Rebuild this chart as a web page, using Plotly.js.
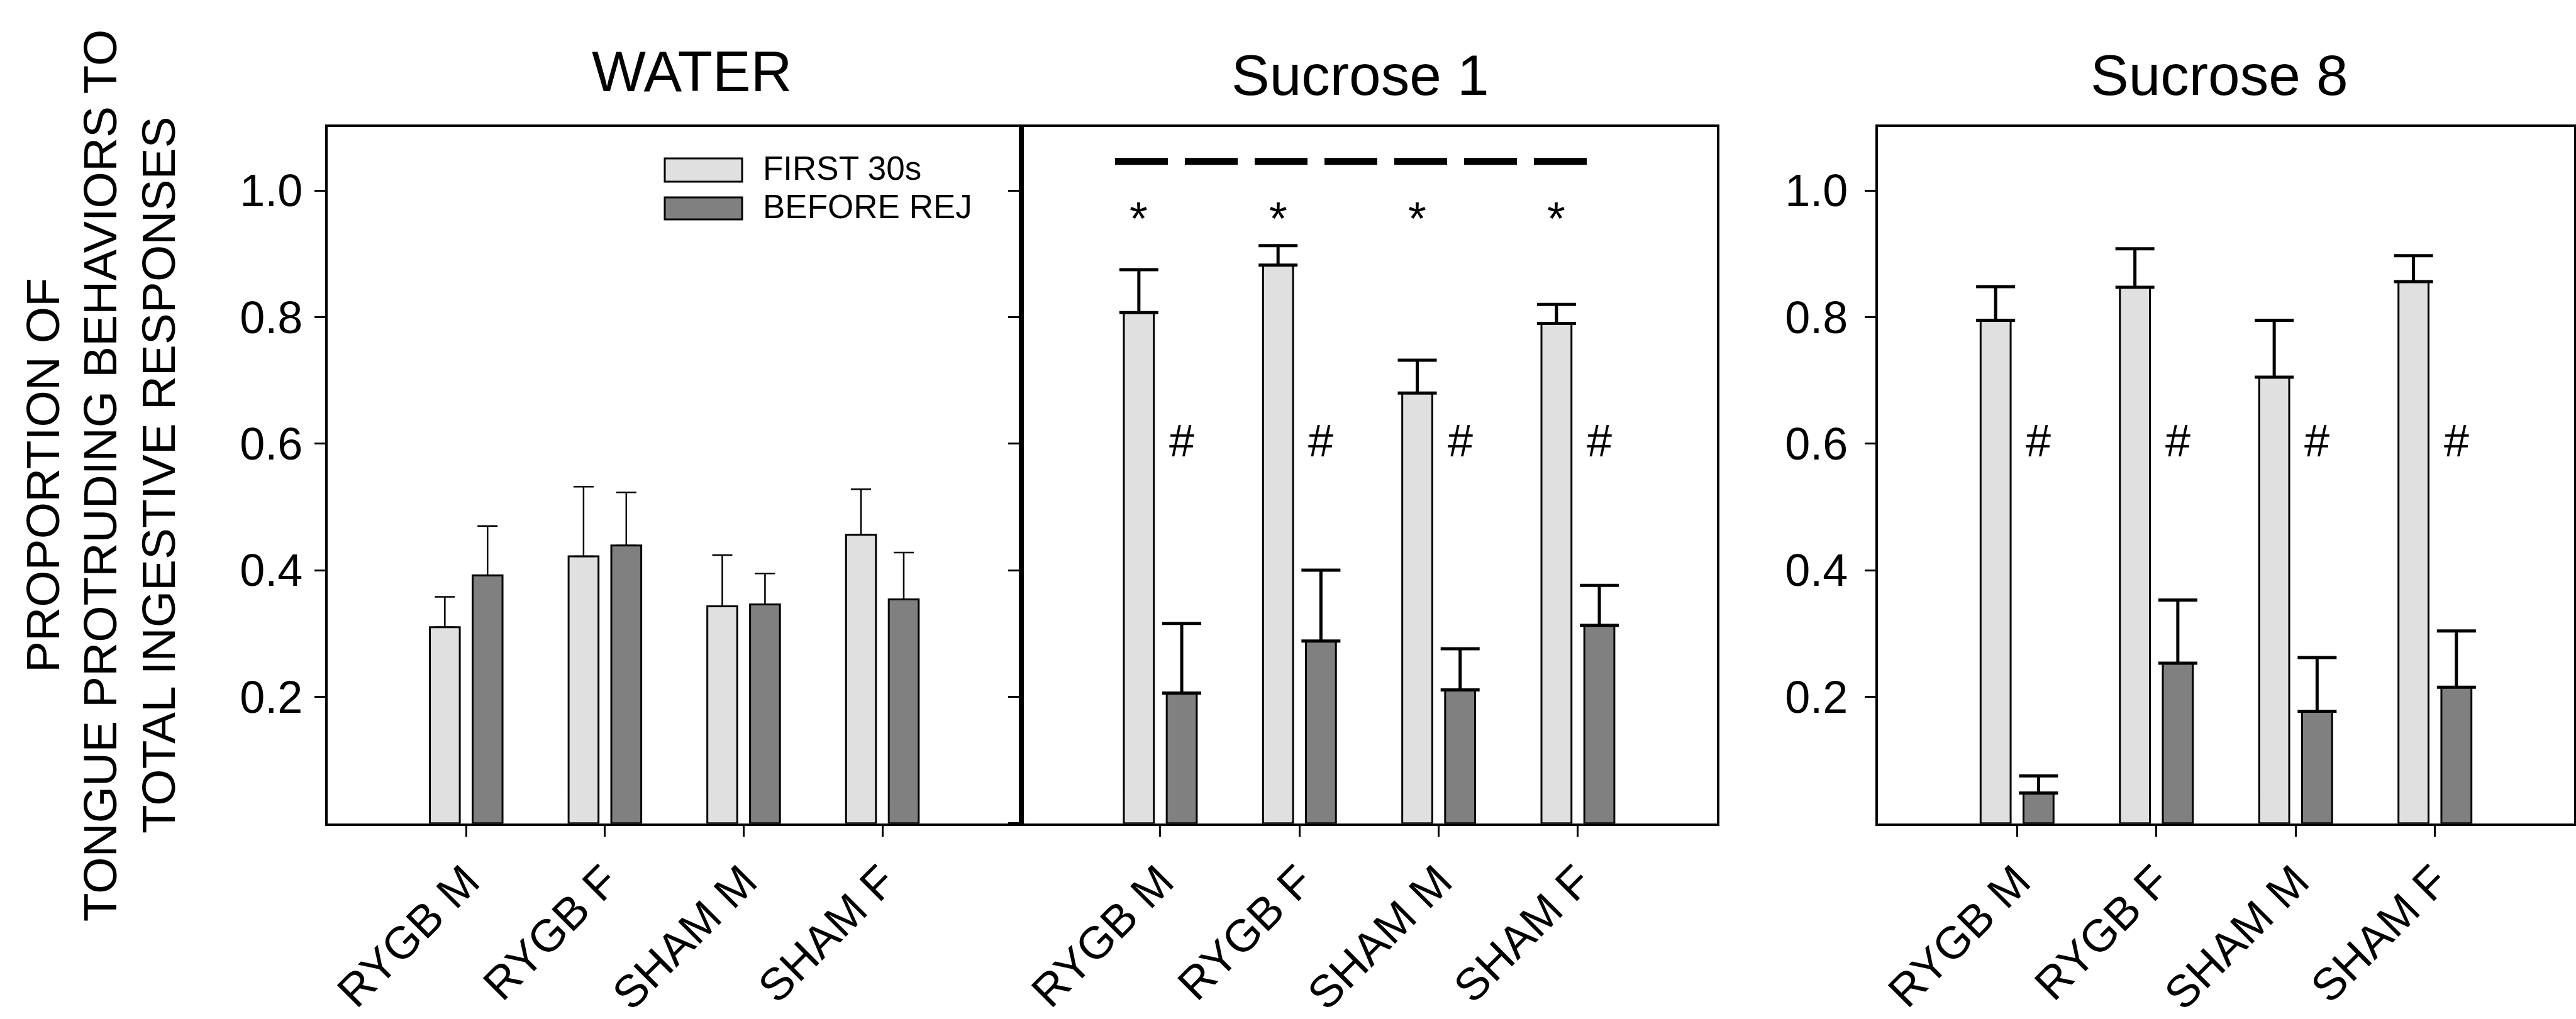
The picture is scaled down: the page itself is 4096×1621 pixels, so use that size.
<!DOCTYPE html>
<html>
<head>
<meta charset="utf-8">
<script src="https://cdn.plot.ly/plotly-3.0.1.min.js"></script>
<style>html,body{margin:0;padding:0;background:#fff;}#chart{width:4096px;height:1621px;}</style>
</head>
<body>
<div id="chart"></div>
<script>
// ---------------- DATA ----------------
const categories = ['RYGB M', 'RYGB F', 'SHAM M', 'SHAM F'];
const panelTitles = ['WATER', 'Sucrose 1', 'Sucrose 8'];
const seriesNames = ['FIRST 30s', 'BEFORE REJ'];

const waterFirst      = [0.310, 0.422, 0.343, 0.456];
const waterFirstErr   = [0.048, 0.110, 0.081, 0.072];
const waterBefore     = [0.392, 0.439, 0.346, 0.354];
const waterBeforeErr  = [0.078, 0.084, 0.049, 0.074];

const suc1First       = [0.807, 0.882, 0.680, 0.790];
const suc1FirstErr    = [0.068, 0.031, 0.052, 0.030];
const suc1Before      = [0.206, 0.288, 0.211, 0.313];
const suc1BeforeErr   = [0.110, 0.112, 0.065, 0.063];

const suc8First       = [0.795, 0.847, 0.705, 0.856];
const suc8FirstErr    = [0.053, 0.061, 0.090, 0.041];
const suc8Before      = [0.048, 0.253, 0.177, 0.215];
const suc8BeforeErr   = [0.027, 0.100, 0.085, 0.089];

const yTickVals  = [0.2, 0.4, 0.6, 0.8, 1.0];
const yTickText  = ['0.2', '0.4', '0.6', '0.8', '1.0'];

// significance marks: '*' over FIRST 30s bars, '#' over BEFORE REJ bars
const starPanels = [1];
const starY = 0.972;
const hashPanels = [1, 2];
const hashY = 0.605;
// dashed significance line in Sucrose 1 (category units)
const sigLineX = [-0.325, 3.065];
const sigLineY = 1.046;

const yTitleLines = ['PROPORTION OF', 'TONGUE PROTRUDING BEHAVIORS TO', 'TOTAL INGESTIVE RESPONSES'];

// ---------------- STYLE ----------------
const W = 4096, H = 1621;
const FONT = 'Liberation Sans, Arial, Helvetica, sans-serif';
const lightColor = '#e0e0e0';
const darkColor = '#808080';
const px = x => x / W;
const py = y => 1 - y / H;

const plotTop = 202.4, plotBot = 1309.8;
const yDom = [py(plotBot), py(plotTop)];
const xDoms = [[px(520.7), px(1623.6)], [px(1623.6), px(2730.3)], [px(2985.8), px(4093.2)]];
const BARGAP = 0.384, BARGROUPGAP = 0.30;
const slotHalf = (1 - BARGAP) / 4; // center offset of each bar in a group

const panelData = [
  [[waterFirst, waterFirstErr], [waterBefore, waterBeforeErr]],
  [[suc1First, suc1FirstErr], [suc1Before, suc1BeforeErr]],
  [[suc8First, suc8FirstErr], [suc8Before, suc8BeforeErr]]
];
const errThick = [2.5, 5, 5];
const errWidth = [16, 31, 31];

const traces = [];
panelData.forEach((pd, p) => {
  const sfx = p === 0 ? '' : String(p + 1);
  pd.forEach((s, k) => {
    traces.push({
      type: 'bar',
      name: seriesNames[k],
      x: categories,
      y: s[0],
      xaxis: 'x' + sfx,
      yaxis: 'y' + sfx,
      marker: {color: k === 0 ? lightColor : darkColor, line: {color: '#000', width: 3}},
      error_y: {type: 'data', symmetric: false, array: s[1], arrayminus: s[1].map(() => 0),
                color: '#000', thickness: errThick[p], width: errWidth[p]},
      showlegend: false,
      hoverinfo: 'x+y'
    });
  });
});

function xAxis(p) {
  return {
    domain: xDoms[p], anchor: p === 0 ? 'y' : 'y' + (p + 1),
    type: 'category', categoryarray: categories, range: [-1, 4],
    showline: true, linecolor: '#000', linewidth: 4, mirror: true,
    ticks: 'outside', ticklen: 17, tickwidth: 3, tickcolor: '#000',
    tickangle: -45, tickfont: {family: FONT, size: 72, color: '#000'},
    showgrid: false, zeroline: false, fixedrange: true
  };
}
function yAxis(p, labels) {
  return {
    domain: yDom, anchor: p === 0 ? 'x' : 'x' + (p + 1),
    range: [0, 1.1],
    showline: true, linecolor: '#000', linewidth: 4, mirror: true,
    ticks: 'outside', ticklen: 17, tickwidth: 3, tickcolor: '#000',
    tickmode: 'array',
    tickvals: labels ? yTickVals : [0].concat(yTickVals),
    ticktext: labels ? yTickText : [''].concat(yTickText.map(() => '')),
    showticklabels: labels,
    ticklabelstandoff: p === 0 ? 4 : 12,
    tickfont: {family: FONT, size: 72, color: '#000'},
    showgrid: false, zeroline: false, fixedrange: true
  };
}

const annotations = [];
const titleX = [1100, 2163, 3529];
panelTitles.forEach((t, p) => {
  annotations.push({xref: 'paper', yref: 'paper', x: px(titleX[p]), y: py(p === 0 ? 113 : 119),
    xanchor: 'center', yanchor: 'middle', showarrow: false, text: t,
    font: {family: FONT, size: 91, color: '#000'}});
});
const yTitleX = [67.8, 159.2, 252.0];
yTitleLines.forEach((t, i) => {
  annotations.push({xref: 'paper', yref: 'paper', x: px(yTitleX[i]), y: py((plotTop + plotBot) / 2),
    xanchor: 'center', yanchor: 'middle', showarrow: false, text: t, textangle: -90,
    font: {family: FONT, size: 75, color: '#000'}});
});
starPanels.forEach(p => {
  const sfx = p === 0 ? '' : String(p + 1);
  categories.forEach((c, i) => {
    annotations.push({xref: 'x' + sfx, yref: 'y' + sfx, x: i - slotHalf, y: starY, yshift: -16,
      xanchor: 'center', yanchor: 'middle', showarrow: false, text: '*',
      font: {family: FONT, size: 74, color: '#000'}});
  });
});
hashPanels.forEach(p => {
  const sfx = p === 0 ? '' : String(p + 1);
  categories.forEach((c, i) => {
    annotations.push({xref: 'x' + sfx, yref: 'y' + sfx, x: i + slotHalf, y: hashY,
      xanchor: 'center', yanchor: 'middle', showarrow: false, text: '#',
      font: {family: FONT, size: 72, color: '#000'}});
  });
});
// manual legend (in WATER panel)
const legRows = [[252, 289, 268], [314, 349, 328]];
const shapes = [];
seriesNames.forEach((n, k) => {
  shapes.push({type: 'rect', xref: 'paper', yref: 'paper',
    x0: px(1057), x1: px(1180), y0: py(legRows[k][1]), y1: py(legRows[k][0]),
    fillcolor: k === 0 ? lightColor : darkColor, line: {color: '#000', width: 3}});
  annotations.push({xref: 'paper', yref: 'paper', x: px(1211), y: py(legRows[k][2]),
    xanchor: 'left', yanchor: 'middle', showarrow: false, text: n,
    font: {family: FONT, size: 53, color: '#000'}});
});
shapes.push({type: 'line', xref: 'x2', yref: 'y2', x0: sigLineX[0], x1: sigLineX[1], y0: sigLineY, y1: sigLineY,
  line: {color: '#000', width: 11, dash: '84px,27px'}});

const layout = {
  width: W, height: H,
  margin: {l: 0, r: 0, t: 0, b: 0},
  paper_bgcolor: '#fff', plot_bgcolor: 'rgba(0,0,0,0)',
  showlegend: false,
  barmode: 'group', bargap: BARGAP, bargroupgap: BARGROUPGAP,
  font: {family: FONT, color: '#000'},
  xaxis: xAxis(0), yaxis: yAxis(0, true),
  xaxis2: xAxis(1), yaxis2: yAxis(1, false),
  xaxis3: xAxis(2), yaxis3: yAxis(2, true),
  annotations: annotations,
  shapes: shapes
};

Plotly.newPlot('chart', traces, layout, {displayModeBar: false, staticPlot: true});
</script>
</body>
</html>
